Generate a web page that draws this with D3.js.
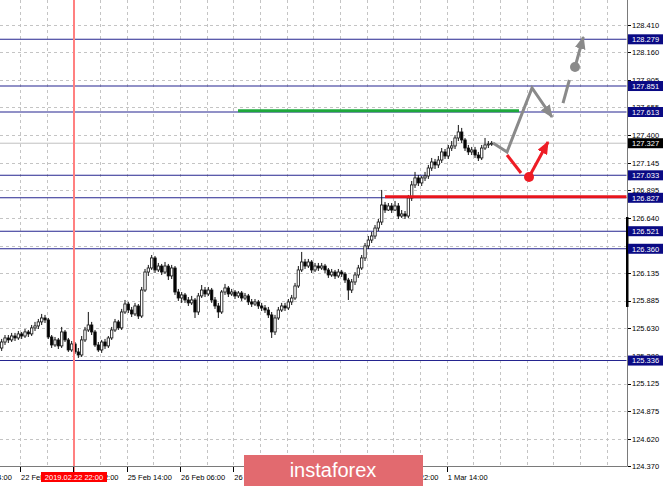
<!DOCTYPE html>
<html><head><meta charset="utf-8">
<script src="https://cdn.jsdelivr.net/npm/d3@7"></script>
<style>
html,body{margin:0;padding:0;background:#fff;}
svg{display:block;}
text{font-family:"Liberation Sans",Arial,sans-serif;}
</style></head>
<body>
<svg id="chart" width="665" height="486"></svg>
<script>
// ---------- DATA ----------
const opens = [125.451,125.506,125.543,125.525,125.561,125.543,125.580,125.561,125.598,125.580,125.635,125.653,125.690,125.726,125.708,125.552,125.479,125.525,125.470,125.598,125.525,125.433,125.488,125.415,125.387,125.525,125.616,125.662,125.598,125.479,125.433,125.506,125.470,125.543,125.616,125.690,125.635,125.781,125.854,125.799,125.763,125.836,125.744,125.982,126.147,126.184,126.276,126.166,126.202,126.147,126.202,126.111,126.184,125.964,125.909,125.937,125.891,125.864,125.891,125.781,125.928,125.982,125.946,125.982,125.891,125.836,125.781,125.964,126.001,125.946,125.964,125.928,125.955,125.909,125.928,125.873,125.854,125.873,125.836,125.818,125.799,125.754,125.598,125.726,125.799,125.836,125.818,125.873,125.909,126.019,126.166,126.239,126.202,126.239,126.166,126.202,126.184,126.202,126.166,126.120,126.147,126.111,126.147,126.129,126.074,125.982,126.056,126.120,126.184,126.276,126.386,126.440,126.477,126.550,126.605,126.761,126.715,126.752,126.715,126.752,126.660,126.679,126.660,126.825,126.945,127.009,126.963,127.009,127.027,127.100,127.155,127.128,127.173,127.247,127.210,127.283,127.302,127.375,127.430,127.357,127.283,127.247,127.265,127.219,127.192,127.283,127.311,127.320];
const highs = [125.534,125.570,125.570,125.589,125.589,125.607,125.598,125.625,125.616,125.662,125.690,125.717,125.763,125.754,125.726,125.570,125.552,125.543,125.644,125.616,125.543,125.515,125.506,125.451,125.561,125.644,125.781,125.690,125.616,125.506,125.525,125.534,125.561,125.644,125.717,125.708,125.809,125.891,125.873,125.827,125.864,125.854,126.010,126.175,126.212,126.303,126.294,126.230,126.221,126.239,126.221,126.212,126.202,125.992,125.964,125.955,125.918,125.928,125.909,125.955,126.028,126.010,126.010,126.001,125.918,125.864,125.982,126.038,126.019,125.992,125.982,125.973,125.973,125.955,125.946,125.900,125.900,125.891,125.864,125.845,125.827,125.781,125.754,125.827,125.864,125.864,125.900,125.937,126.047,126.202,126.331,126.267,126.267,126.257,126.230,126.230,126.230,126.221,126.184,126.175,126.166,126.175,126.166,126.147,126.093,126.083,126.147,126.212,126.303,126.413,126.477,126.514,126.578,126.633,126.899,126.789,126.779,126.779,126.798,126.779,126.715,126.706,126.853,126.981,127.064,127.036,127.027,127.064,127.128,127.192,127.183,127.210,127.283,127.274,127.311,127.347,127.402,127.494,127.467,127.375,127.311,127.293,127.293,127.247,127.311,127.375,127.347,127.347];
const lows = [125.424,125.479,125.497,125.506,125.515,125.525,125.534,125.543,125.552,125.561,125.607,125.625,125.662,125.680,125.534,125.451,125.461,125.442,125.451,125.506,125.415,125.415,125.396,125.360,125.369,125.506,125.598,125.570,125.461,125.415,125.406,125.442,125.451,125.525,125.598,125.616,125.616,125.763,125.772,125.735,125.744,125.717,125.726,125.964,126.111,126.166,126.138,126.147,126.120,126.129,126.074,126.083,125.937,125.882,125.864,125.864,125.836,125.845,125.726,125.754,125.909,125.918,125.928,125.864,125.809,125.726,125.763,125.937,125.918,125.928,125.900,125.909,125.882,125.891,125.845,125.827,125.836,125.809,125.790,125.772,125.726,125.543,125.570,125.708,125.781,125.790,125.799,125.845,125.891,126.001,126.147,126.175,126.184,126.138,126.147,126.157,126.166,126.138,126.093,126.102,126.083,126.093,126.102,126.047,125.891,125.955,126.028,126.093,126.166,126.248,126.358,126.413,126.450,126.523,126.578,126.688,126.706,126.688,126.706,126.633,126.642,126.633,126.642,126.798,126.917,126.935,126.935,126.981,127.000,127.073,127.091,127.100,127.146,127.183,127.183,127.256,127.274,127.347,127.329,127.256,127.219,127.219,127.192,127.164,127.173,127.265,127.283,127.302];
const closes = [125.506,125.543,125.525,125.561,125.543,125.580,125.561,125.598,125.580,125.635,125.653,125.690,125.726,125.708,125.552,125.479,125.525,125.470,125.598,125.525,125.433,125.488,125.415,125.387,125.525,125.616,125.662,125.598,125.479,125.433,125.506,125.470,125.543,125.616,125.690,125.635,125.781,125.854,125.799,125.763,125.836,125.744,125.982,126.147,126.184,126.276,126.166,126.202,126.147,126.202,126.111,126.184,125.964,125.909,125.937,125.891,125.864,125.891,125.781,125.928,125.982,125.946,125.982,125.891,125.836,125.781,125.964,126.001,125.946,125.964,125.928,125.955,125.909,125.928,125.873,125.854,125.873,125.836,125.818,125.799,125.754,125.598,125.726,125.799,125.836,125.818,125.873,125.909,126.019,126.166,126.239,126.202,126.239,126.166,126.202,126.184,126.202,126.166,126.120,126.147,126.111,126.147,126.129,126.074,125.982,126.056,126.120,126.184,126.276,126.386,126.440,126.477,126.550,126.605,126.761,126.715,126.752,126.715,126.752,126.660,126.679,126.660,126.825,126.945,127.009,126.963,127.009,127.027,127.100,127.155,127.128,127.173,127.247,127.210,127.283,127.302,127.375,127.430,127.357,127.283,127.247,127.265,127.219,127.192,127.283,127.311,127.320,127.327];

const priceTicks = [128.410,128.160,127.905,127.655,127.400,127.145,126.895,126.640,126.385,126.135,125.885,125.630,125.380,125.125,124.875,124.620,124.370];
const levelPrices = [128.279,127.851,127.613,127.033,126.827,126.521,126.360,125.336];
const lastPrice = 127.327;

const timeLabelSlots = [-10,6,22,38,54,70,86,102,118,134];
const timeLabels = ["21 Feb 14:00","22 Feb 06:00","22 Feb 22:00","25 Feb 14:00","26 Feb 06:00","26 Feb 22:00","27 Feb 14:00","28 Feb 06:00","28 Feb 22:00","1 Mar 14:00"];
const markerSlot = 22.2;
const markerLabel = "2019.02.22 22:00";

const greenLevel = {from:71.4, to:155.7, price:127.624};
const redLevel = {from:115.5, to:188, price:126.836};

const grayPath = [[147.9,127.329],[152.1,127.247],[159.6,127.833],[165.6,127.567]];
const grayDash = [[168.9,127.695],[170.8,127.906]];
const grayDot = [172.5,128.025];
const grayArrowEnd = [175.0,128.300];
const redPath = [[152.1,127.219],[156.3,127.054]];
const redDot = [158.7,127.018];
const redArrowEnd = [164.4,127.338];
const scaleBar = [126.651,125.827];

// ---------- LAYOUT ----------
const W = 665, H = 486;
const plotRight = 626.7, plotBottom = 466;
const slotsTotal = 188;

const x = d3.scaleLinear().domain([0, slotsTotal]).range([0, plotRight]);
const y = d3.scaleLinear().domain([124.37, 128.41]).range([466, 25]);

const svg = d3.select("#chart");
const defs = svg.append("defs");
defs.append("clipPath").attr("id","plotclip").append("rect")
  .attr("x",0).attr("y",0).attr("width",plotRight).attr("height",plotBottom);

function marker(id,color){
  defs.append("marker").attr("id",id)
    .attr("markerUnits","userSpaceOnUse")
    .attr("viewBox","0 0 12 10").attr("refX",11).attr("refY",5)
    .attr("markerWidth",13).attr("markerHeight",11).attr("orient","auto")
    .append("path").attr("d","M0,0 L12,5 L0,10 Z").attr("fill",color);
}
marker("ag","#8a8a8a");
marker("ar","#ee1c25");

const plot = svg.append("g").attr("clip-path","url(#plotclip)");

// grid
const gridSlots = d3.range(6, slotsTotal, 8);
plot.append("g").selectAll("line").data(gridSlots).join("line")
  .attr("x1",d=>Math.round(x(d))+0.5).attr("x2",d=>Math.round(x(d))+0.5)
  .attr("y1",0).attr("y2",plotBottom)
  .attr("stroke","#c4c4c4").attr("stroke-dasharray","3,3");
plot.append("g").selectAll("line").data(priceTicks).join("line")
  .attr("x1",0).attr("x2",plotRight)
  .attr("y1",d=>Math.round(y(d))+0.5).attr("y2",d=>Math.round(y(d))+0.5)
  .attr("stroke","#c4c4c4").attr("stroke-dasharray","3,3");

// level lines
plot.append("g").selectAll("line").data(levelPrices).join("line")
  .attr("x1",0).attr("x2",plotRight)
  .attr("y1",d=>y(d)).attr("y2",d=>y(d))
  .attr("stroke","#24248f").attr("stroke-width",1.1);

// last price line
plot.append("line").attr("x1",0).attr("x2",plotRight)
  .attr("y1",y(lastPrice)).attr("y2",y(lastPrice))
  .attr("stroke","#c0c0c0").attr("stroke-width",1);

// red vertical line
svg.append("line").attr("x1",x(markerSlot)).attr("x2",x(markerSlot))
  .attr("y1",0).attr("y2",473)
  .attr("stroke","#ff8080").attr("stroke-width",2);

// candles
const candles = opens.map((o,i)=>({i,o,h:highs[i],l:lows[i],c:closes[i]}));
const cg = plot.append("g");
const bw = 2.4;
cg.selectAll("line").data(candles).join("line")
  .attr("x1",d=>x(d.i+0.5)).attr("x2",d=>x(d.i+0.5))
  .attr("y1",d=>y(d.h)).attr("y2",d=>y(d.l))
  .attr("stroke","#111").attr("stroke-width",1);
cg.selectAll("rect").data(candles).join("rect")
  .attr("x",d=>x(d.i+0.5)-bw/2)
  .attr("width",bw)
  .attr("y",d=>y(Math.max(d.o,d.c)))
  .attr("height",d=>Math.max(1,Math.abs(y(d.o)-y(d.c))))
  .attr("fill",d=>d.c>=d.o?"#ffffff":"#000000")
  .attr("stroke","#111").attr("stroke-width",0.8);

// green and red thick lines
plot.append("line").attr("x1",x(greenLevel.from)).attr("x2",x(greenLevel.to))
  .attr("y1",y(greenLevel.price)).attr("y2",y(greenLevel.price))
  .attr("stroke","#1ea83c").attr("stroke-width",3);
plot.append("line").attr("x1",x(redLevel.from)).attr("x2",x(redLevel.to))
  .attr("y1",y(redLevel.price)).attr("y2",y(redLevel.price))
  .attr("stroke","#e8141c").attr("stroke-width",3);

// arrows
const lineGen = d3.line().x(d=>x(d[0])).y(d=>y(d[1]));
plot.append("path").attr("d",lineGen(grayPath)).attr("fill","none")
  .attr("stroke","#8a8a8a").attr("stroke-width",3).attr("stroke-linejoin","miter")
  .attr("marker-end","url(#ag)");
plot.append("path").attr("d",lineGen(grayDash)).attr("fill","none")
  .attr("stroke","#8a8a8a").attr("stroke-width",3);
plot.append("path").attr("d",lineGen([grayDot,grayArrowEnd])).attr("fill","none")
  .attr("stroke","#8a8a8a").attr("stroke-width",3).attr("marker-end","url(#ag)");
plot.append("circle").attr("cx",x(grayDot[0])).attr("cy",y(grayDot[1])).attr("r",5).attr("fill","#8a8a8a");

plot.append("path").attr("d",lineGen(redPath)).attr("fill","none")
  .attr("stroke","#ee1c25").attr("stroke-width",3);
plot.append("path").attr("d",lineGen([redDot,redArrowEnd])).attr("fill","none")
  .attr("stroke","#ee1c25").attr("stroke-width",3).attr("marker-end","url(#ar)");
plot.append("circle").attr("cx",x(redDot[0])).attr("cy",y(redDot[1])).attr("r",5).attr("fill","#ee1c25");

// frame
svg.append("line").attr("x1",627.5).attr("x2",627.5).attr("y1",0).attr("y2",plotBottom+0.5)
  .attr("stroke","#7a7a7a");
svg.append("line").attr("x1",0).attr("x2",627.5).attr("y1",plotBottom+0.5).attr("y2",plotBottom+0.5)
  .attr("stroke","#7a7a7a");

// scale bar on axis
svg.append("rect").attr("x",626).attr("width",2.5)
  .attr("y",y(scaleBar[0])).attr("height",y(scaleBar[1])-y(scaleBar[0]))
  .attr("fill","#000");

// price ticks and labels
const yAxisG = svg.append("g");
yAxisG.selectAll("line").data(priceTicks).join("line")
  .attr("x1",628).attr("x2",631)
  .attr("y1",d=>Math.round(y(d))+0.5).attr("y2",d=>Math.round(y(d))+0.5)
  .attr("stroke","#000");
yAxisG.selectAll("text").data(priceTicks).join("text")
  .attr("x",632).attr("y",d=>y(d)+2.8)
  .attr("font-size","7.5px").attr("fill","#000")
  .text(d=>d.toFixed(3));

// level boxes
const lb = svg.append("g").selectAll("g").data(levelPrices).join("g");
lb.append("rect").attr("x",628).attr("width",35).attr("y",d=>y(d)-5).attr("height",10).attr("fill","#0a0a84");
lb.append("text").attr("x",632).attr("y",d=>y(d)+2.8).attr("font-size","7.5px").attr("fill","#fff")
  .text(d=>d.toFixed(3));
svg.append("rect").attr("x",628).attr("width",35).attr("y",y(lastPrice)-5).attr("height",10).attr("fill","#000");
svg.append("text").attr("x",632).attr("y",y(lastPrice)+2.8).attr("font-size","7.5px").attr("fill","#fff")
  .text(lastPrice.toFixed(3));

// time ticks and labels
const xAxisG = svg.append("g");
xAxisG.selectAll("line").data(timeLabelSlots).join("line")
  .attr("x1",d=>Math.round(x(d))+0.5).attr("x2",d=>Math.round(x(d))+0.5)
  .attr("y1",467).attr("y2",472).attr("stroke","#000");
xAxisG.selectAll("text").data(timeLabels).join("text")
  .attr("x",(d,i)=>x(timeLabelSlots[i])+1).attr("y",479.5)
  .attr("font-size","7.5px").attr("fill","#000")
  .text(d=>d);

// marker label
const mw = 66;
svg.append("rect").attr("x",x(markerSlot)-mw/2).attr("y",472).attr("width",mw).attr("height",10).attr("fill","#ff0000");
svg.append("text").attr("x",x(markerSlot)).attr("y",479.8).attr("text-anchor","middle")
  .attr("font-size","7.5px").attr("fill","#fff").text(markerLabel);

// logo
svg.append("rect").attr("x",244).attr("y",455).attr("width",179).attr("height",31).attr("fill","#e26a6f");
svg.append("text").attr("x",333).attr("y",477).attr("text-anchor","middle")
  .attr("font-family","'Open Sans',sans-serif").attr("font-weight",300)
  .attr("font-size","20px").attr("fill","#fff").text("instaforex");
</script>
</body></html>
